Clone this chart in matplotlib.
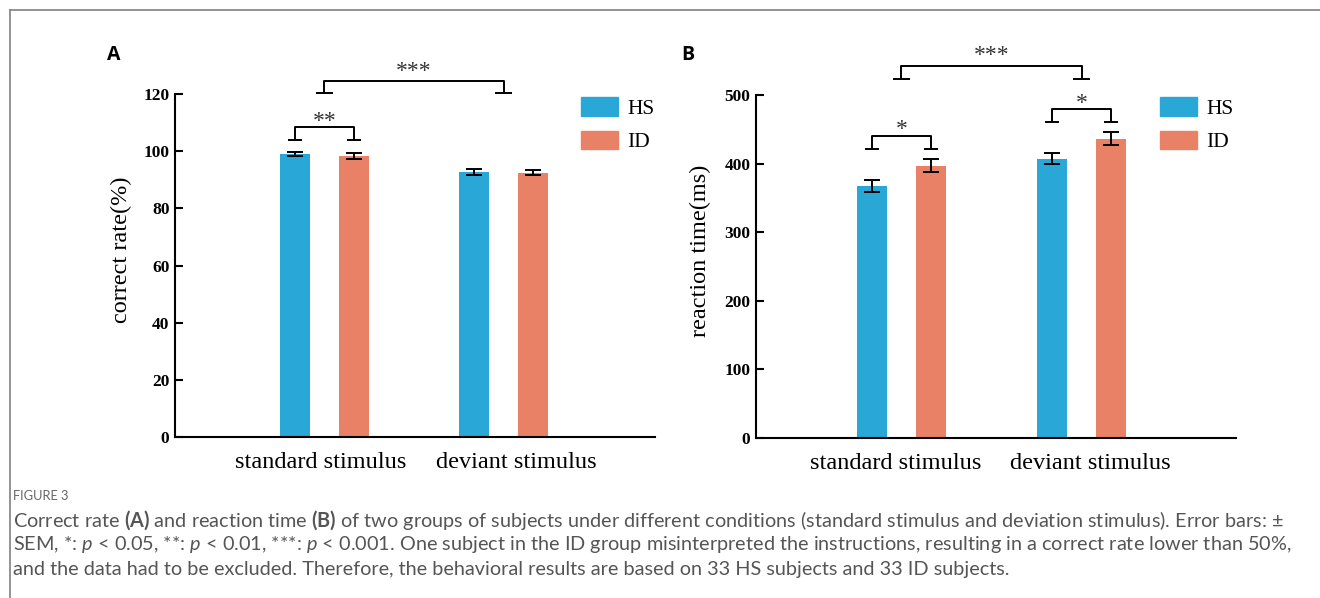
import matplotlib
matplotlib.use('Agg')
import matplotlib.pyplot as plt
import matplotlib.patches as mpatches
from matplotlib.lines import Line2D

plt.rcParams.update({
    'font.family': ['Liberation Serif', 'DejaVu Serif'],
    'mathtext.fontset': 'custom',
    'mathtext.rm': 'Lato',
    'mathtext.it': 'Lato:italic',
    'mathtext.bf': 'Lato:bold',
    'axes.linewidth': 1.5,
})

# data
groups = ['standard stimulus', 'deviant stimulus']
series = ['HS', 'ID']
rate_hs = [99.0, 92.7]
rate_hs_err = [0.8, 1.1]
rate_id = [98.3, 92.4]
rate_id_err = [0.9, 0.9]
rt_hs = [367, 407]
rt_hs_err = [8.5, 8]
rt_id = [397, 436]
rt_id_err = [9, 9.5]

C_HS = '#29a7d7'
C_ID = '#e98166'
C_CAP = '#555555'

fig = plt.figure(figsize=(13.2, 5.98), dpi=100)

# frame around the figure block
fig.add_artist(Line2D([10/1320, 1.0], [1 - 10/598, 1 - 10/598], color='#8a8a8a', lw=1.3))
fig.add_artist(Line2D([10/1320, 10/1320], [0.0, 1 - 10/598], color='#8a8a8a', lw=1.3))


def bracket(ax, x1, x2, y0, y1, label, ys, foot):
    kw = dict(color='black', lw=1.4, clip_on=False, solid_capstyle='butt')
    ax.plot([x1, x1, x2, x2], [y0, y1, y1, y0], **kw)
    ax.plot([x1 - foot, x1 + foot], [y0, y0], **kw)
    ax.plot([x2 - foot, x2 + foot], [y0, y0], **kw)
    ax.text((x1 + x2) / 2, ys, label, ha='center', va='center',
            fontsize=17, color='#333333', clip_on=False)


def panel(rect, hs, hs_err, id_, id_err, ylim, yticks, ylabel, xlim, lab_x, tick_pos):
    ax = fig.add_axes(rect)
    x = [0, 1]
    off, w = 0.165, 0.168
    ax.bar([v - off for v in x], hs, w, color=C_HS, label=series[0])
    ax.bar([v + off for v in x], id_, w, color=C_ID, label=series[1])
    ax.errorbar([v - off for v in x], hs, yerr=hs_err, fmt='none', ecolor='black',
                elinewidth=1.4, capsize=6, capthick=1.4)
    ax.errorbar([v + off for v in x], id_, yerr=id_err, fmt='none', ecolor='black',
                elinewidth=1.4, capsize=6, capthick=1.4)
    ax.set_xlim(*xlim)
    ax.set_ylim(*ylim)
    ax.set_yticks(yticks)
    ax.set_xticks(tick_pos)
    ax.set_xticklabels(groups, fontsize=17.5)
    ax.tick_params(axis='x', length=0, pad=11)
    ax.tick_params(axis='y', direction='in', length=6, width=1.5, pad=4, labelsize=12.5)
    for t in ax.get_yticklabels():
        t.set_fontweight('bold')
    for s in ['top', 'right']:
        ax.spines[s].set_visible(False)
    ax.set_ylabel(ylabel, fontsize=17.5, va='center')
    ax.yaxis.set_label_coords(lab_x, 0.545)
    return ax


# ---- A: correct rate ----
axA = panel([175/1320, 1 - 437/598, 480/1320, 343/598], rate_hs, rate_hs_err,
            rate_id, rate_id_err, (0, 120), range(0, 121, 20), 'correct rate(%)',
            (-0.835, 1.846), -54/480, [-0.02, 1.07])
bracket(axA, -0.165, 0.165, 103.9, 108.3, '**', 110.4, 0.04)
bracket(axA, 0.0, 1.0, 120.3, 124.4, '***', 128.0, 0.045)

# ---- B: reaction time ----
axB = panel([756/1320, 1 - 438/598, 480/1320, 343/598], rt_hs, rt_hs_err,
            rt_id, rt_id_err, (0, 500), range(0, 501, 100), 'reaction time(ms)',
            (-0.808, 1.858), -56/480, [-0.03, 1.05])
bracket(axB, -0.165, 0.165, 422, 440, '*', 449, 0.04)
bracket(axB, 0.835, 1.165, 460, 479, '*', 487, 0.04)
bracket(axB, 0.0, 1.0, 524, 542, '***', 557, 0.045)

# legends
for ax, lx in [(axA, 581), (axB, 1160)]:
    handles = [mpatches.Patch(color=C_HS, label='HS'), mpatches.Patch(color=C_ID, label='ID')]
    fig.legend(handles=handles, loc='upper left', bbox_to_anchor=(lx/1320, 1 - 97/598),
               frameon=False, fontsize=15.5, handlelength=1.7, handleheight=0.95,
               labelspacing=0.55, handletextpad=0.45, borderpad=0, borderaxespad=0)

# panel letters
fig.text(107/1320, 1 - 60/598, 'A', fontsize=14, fontweight='bold', family='Open Sans')
fig.text(681/1320, 1 - 60/598, 'B', fontsize=14, fontweight='bold', family='Open Sans')

# caption
fig.text(13/1320, 1 - 496/598, 'FIGURE 3', fontsize=9.3, color='#666666',
         family='Lato', va='center')
cap = [
    r'Correct rate $\mathbf{(A)}$ and reaction time $\mathbf{(B)}$ of two groups of subjects '
    r'under different conditions (standard stimulus and deviation stimulus). Error bars: $\pm$',
    r'SEM, *: $p$ < 0.05, **: $p$ < 0.01, ***: $p$ < 0.001. One subject in the ID group '
    r'misinterpreted the instructions, resulting in a correct rate lower than 50%,',
    'and the data had to be excluded. Therefore, the behavioral results are based on '
    '33 HS subjects and 33 ID subjects.',
]
for i, line in enumerate(cap):
    fig.text(13/1320, 1 - (520 + 24.5 * i)/598, line, fontsize=14.3, color=C_CAP,
             family='Lato', va='center')

fig.savefig('out.png', dpi=100)
